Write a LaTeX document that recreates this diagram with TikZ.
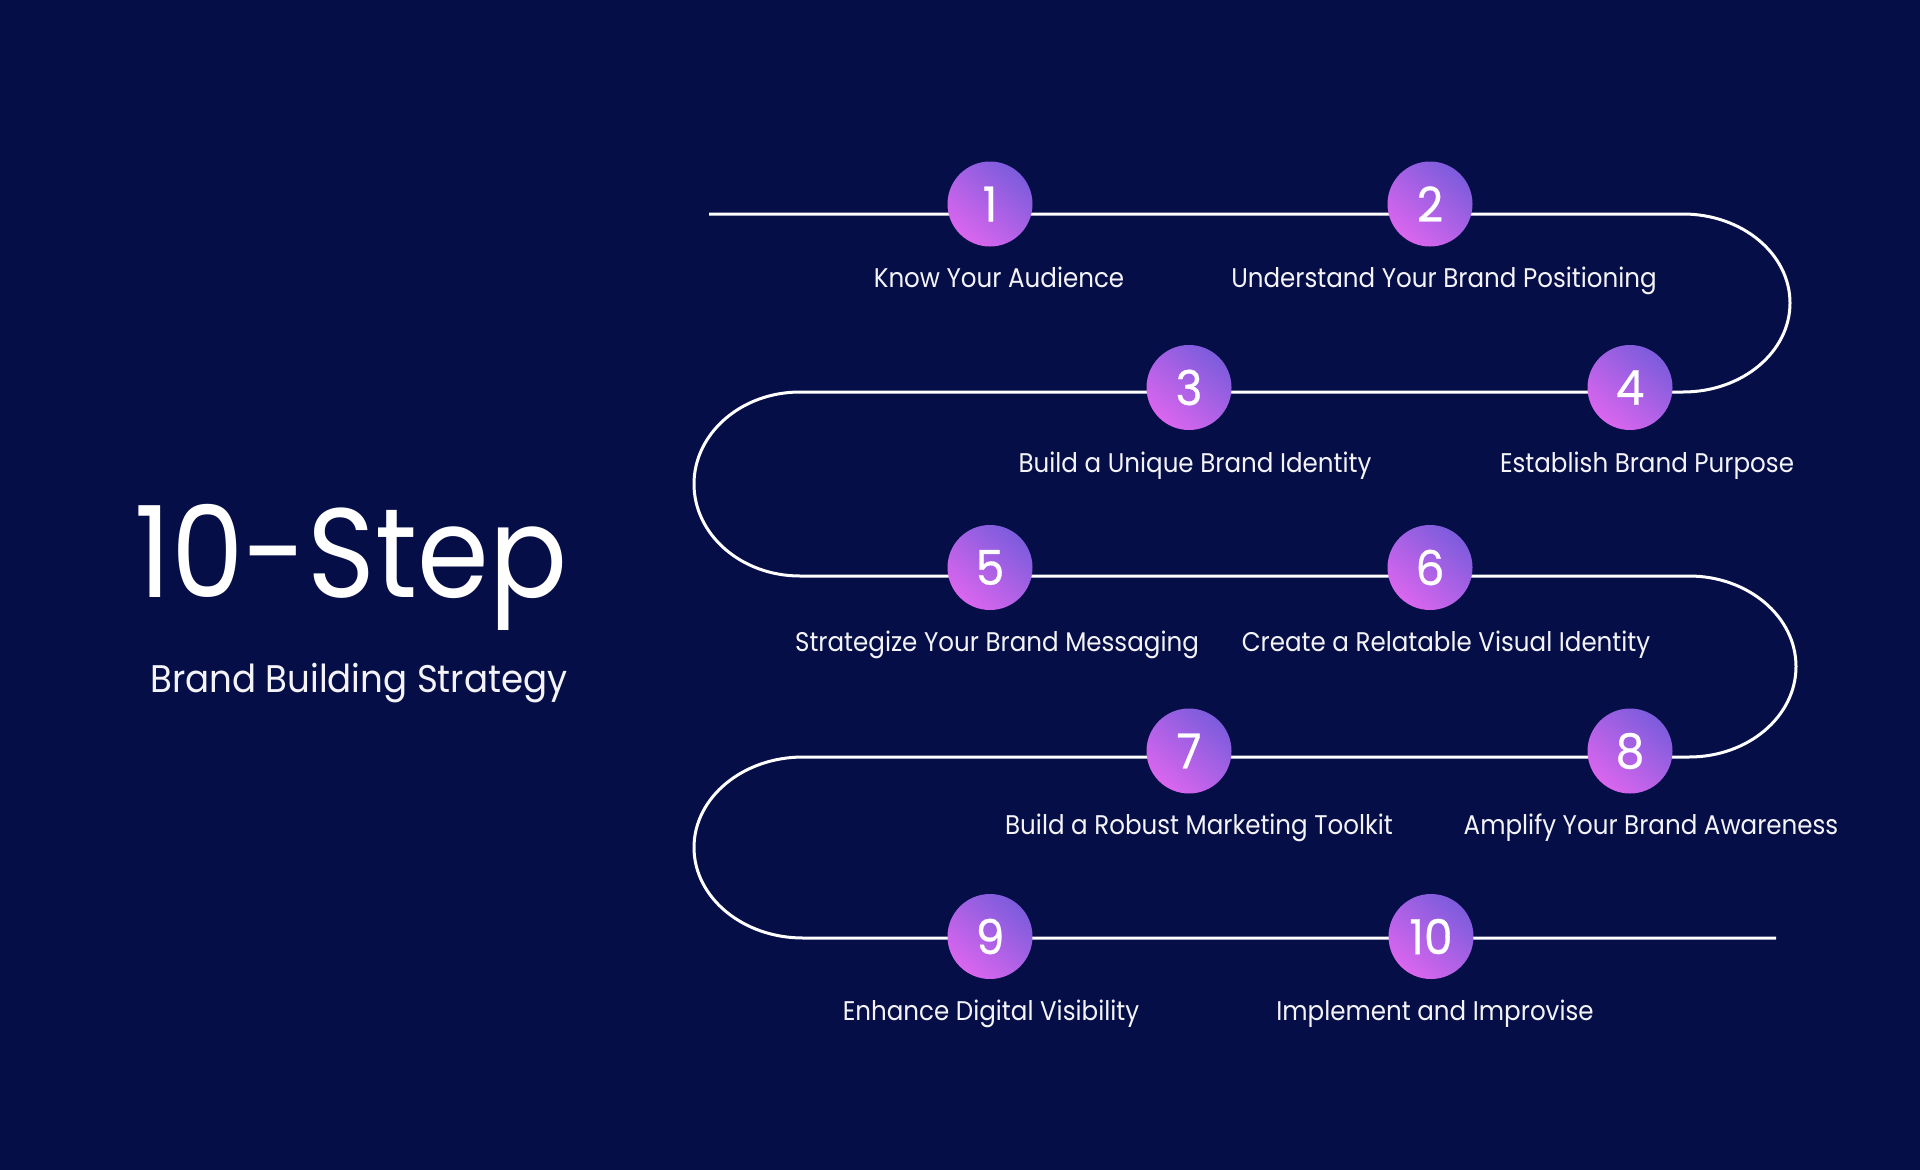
\documentclass[tikz,border=0pt]{standalone}
\usepackage{fontspec}
\setmainfont[FakeStretch=0.91]{Poppins}
\newfontfamily\subfont[FakeStretch=0.925]{Poppins}
\newfontfamily\numfont[FakeStretch=0.95,FakeBold=0.6]{Poppins}
\definecolor{bg}{HTML}{060E48}
\definecolor{cTop}{HTML}{7C5CDC}
\definecolor{cBot}{HTML}{DA66EE}
\definecolor{txt}{HTML}{F4F4F8}
\tikzset{
  stepdot/.style={circle, minimum size=85pt, inner sep=0pt, shading=axis,
    top color=cTop, bottom color=cBot, shading angle=-40,
    text=white, font=\numfont\fontsize{48}{50}\selectfont},
  steplabel/.style={anchor=base, inner sep=0pt, text=txt,
    font=\fontsize{27}{30}\selectfont},
  road/.style={draw=white, line width=3pt}
}
\begin{document}
\begin{tikzpicture}[x=1pt,y=1pt]
\fill[bg] (0,0) rectangle (1920,-1170);
\useasboundingbox (0,0) rectangle (1920,-1170);
% title
\node[anchor=base west, inner sep=0pt, text=white, font=\fontsize{127}{130}\selectfont] (title) at (134,-597) {10-Step};
\node[anchor=base west, inner sep=0pt, text=txt, font=\subfont\fontsize{38.5}{42}\selectfont] (subtitle) at (150,-692) {Brand Building Strategy};
% road
\coordinate (r1s) at (709,-214);
\coordinate (r1e) at (1683,-214);
\coordinate (r2s) at (1683,-392);
\coordinate (r2e) at (800,-392);
\coordinate (r3s) at (800,-576);
\coordinate (r3e) at (1689,-576);
\coordinate (r4s) at (1689,-757);
\coordinate (r4e) at (803,-757);
\coordinate (r5s) at (803,-938);
\coordinate (r5e) at (1776,-938);
\draw[road] (r1s) -- (r1e) arc[start angle=90, end angle=-90, x radius=107pt, y radius=89pt]
  -- (r2e) arc[start angle=90, end angle=270, x radius=106pt, y radius=92pt]
  -- (r3e) arc[start angle=90, end angle=-90, x radius=107pt, y radius=90.5pt]
  -- (r4e) arc[start angle=90, end angle=270, x radius=109pt, y radius=90.5pt]
  -- (r5e);
% steps
\node[stepdot] (s1) at (990,-204) {1};
\node[stepdot] (s2) at (1430,-204) {2};
\node[stepdot] (s3) at (1189,-387.5) {3};
\node[stepdot] (s4) at (1630,-387.5) {4};
\node[stepdot] (s5) at (990,-567.5) {5};
\node[stepdot] (s6) at (1430,-567.5) {6};
\node[stepdot] (s7) at (1189,-751) {7};
\node[stepdot] (s8) at (1630,-751) {8};
\node[stepdot] (s9) at (990,-936.5) {9};
\node[stepdot] (s10) at (1431,-936.5) {10};
% labels
\node[steplabel] (l1) at (999,-287) {Know Your Audience};
\node[steplabel] (l2) at (1444,-287) {Understand Your Brand Positioning};
\node[steplabel] (l3) at (1195,-472.5) {Build a Unique Brand Identity};
\node[steplabel] (l4) at (1647,-472.5) {Establish Brand Purpose};
\node[steplabel] (l5) at (997,-651.5) {Strategize Your Brand Messaging};
\node[steplabel] (l6) at (1446,-651.5) {Create a Relatable Visual Identity};
\node[steplabel] (l7) at (1199,-834.5) {Build a Robust Marketing Toolkit};
\node[steplabel] (l8) at (1651,-834.5) {Amplify Your Brand Awareness};
\node[steplabel] (l9) at (991,-1020.5) {Enhance Digital Visibility};
\node[steplabel] (l10) at (1435,-1020.5) {Implement and Improvise};
\end{tikzpicture}
\end{document}
